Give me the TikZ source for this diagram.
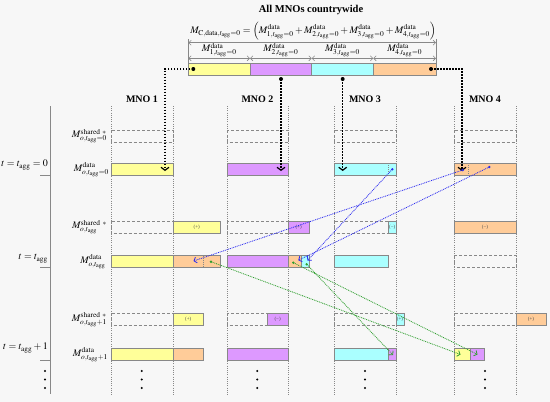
\documentclass[tikz,border=0pt]{standalone}
\usepackage{mathptmx}
\usepackage[no-math]{fontspec}
\setmainfont{Liberation Serif}
\usetikzlibrary{arrows.meta}
\definecolor{yel}{HTML}{FFFF99}
\definecolor{pur}{HTML}{DD99FF}
\definecolor{cya}{HTML}{AAFFFF}
\definecolor{ora}{HTML}{FFCC99}
\definecolor{bgc}{HTML}{F7F7F7}
\definecolor{grl}{HTML}{888888}
\definecolor{blu}{HTML}{2A2AF0}
\definecolor{grn}{HTML}{2E9E2E}
\newcommand{\ag}{\mathrm{agg}}
\newcommand{\mybox}[5]{\draw[cbox, fill=#1] (#2,#3) rectangle (#4,#5);}
\newcommand{\mydash}[4]{\draw[dbox] (#1,#2) rectangle (#3,#4);}
\tikzset{
  cbox/.style={draw=grl, line width=0.7pt},
  dbox/.style={draw=grl, line width=0.7pt, dash pattern=on 3pt off 2pt},
  colline/.style={grl, line width=0.5pt, dash pattern=on 1pt off 1.2pt},
  blkarrow/.style={line width=1.5pt, dash pattern=on 1.5pt off 1.5pt, -{Straight Barb[length=3pt,width=8pt,line width=1.2pt]}},
  bluarrow/.style={blu, line width=0.8pt, dash pattern=on 0.9pt off 0.9pt, -{Straight Barb[length=2.5pt,width=6pt,line width=0.8pt]}},
  grnarrow/.style={grn, line width=0.8pt, dash pattern=on 0.9pt off 0.9pt, -{Straight Barb[length=2.5pt,width=6pt,line width=0.8pt]}},
  kdot/.style={circle, fill=black, inner sep=0pt, minimum size=4pt},
  bdot/.style={circle, fill=blu, inner sep=0pt, minimum size=2.6pt},
  gdot/.style={circle, fill=grn, inner sep=0pt, minimum size=2.6pt},
  rowlab/.style={anchor=east, inner sep=0pt, font=\fontsize{10}{12}\selectfont},
  tlab/.style={anchor=east, inner sep=0pt, font=\fontsize{10}{12}\selectfont},
  pmlab/.style={inner sep=0pt, font=\fontsize{5}{6}\selectfont, text=black!70},
  head/.style={inner sep=0pt, font=\bfseries\fontsize{10}{12}\selectfont},
  dimline/.style={grl, line width=0.6pt},
  dimarr/.style={grl, line width=0.6pt, {Straight Barb[length=2.5pt,width=5pt]}-{Straight Barb[length=2.5pt,width=5pt]}},
  vdots/.style={circle, fill=black, inner sep=0pt, minimum size=2.2pt}
}
\begin{document}
\begin{tikzpicture}[x=1pt,y=-1pt]
\useasboundingbox (0,0) rectangle (550,402);
\fill[bgc] (0,0) rectangle (550,402);

% ---------- header ----------
\node[head, font=\bfseries\fontsize{10.5}{12}\selectfont] (title) at (311,10) {All MNOs countrywide};
\node[inner sep=0pt] (eq) at (313,31) {$M_{\mathrm{C,data},t_{\ag}=0} = \left(M^{\mathrm{data}}_{1,t_{\ag}=0} + M^{\mathrm{data}}_{2,t_{\ag}=0} + M^{\mathrm{data}}_{3,t_{\ag}=0} + M^{\mathrm{data}}_{4,t_{\ag}=0}\right)$};

\draw[dimline] (188.3,39) -- (188.3,63.3);
\draw[dimline] (436,39) -- (436,63.3);
\draw[dimarr] (188.3,42.7) -- (436,42.7);
\draw[dimarr] (188.3,58.3) -- (250,58.3);
\draw[dimarr] (250,58.3) -- (311.7,58.3);
\draw[dimarr] (311.7,58.3) -- (373.3,58.3);
\draw[dimarr] (373.3,58.3) -- (436,58.3);
\node[inner sep=0pt] (h1) at (219.2,50) {$M^{\mathrm{data}}_{1,t_{\ag}=0}$};
\node[inner sep=0pt] (h2) at (280.9,50) {$M^{\mathrm{data}}_{2,t_{\ag}=0}$};
\node[inner sep=0pt] (h3) at (342.5,50) {$M^{\mathrm{data}}_{3,t_{\ag}=0}$};
\node[inner sep=0pt] (h4) at (404.7,50) {$M^{\mathrm{data}}_{4,t_{\ag}=0}$};

\mybox{yel}{188.3}{63.3}{250}{75}
\mybox{pur}{250}{63.3}{311.7}{75}
\mybox{cya}{311.7}{63.3}{373.3}{75}
\mybox{ora}{373.3}{63.3}{436}{75}

% ---------- column headers and lines ----------
\node[head] (mno1) at (142,99) {MNO 1};
\node[head] (mno2) at (257.5,99) {MNO 2};
\node[head] (mno3) at (365,99) {MNO 3};
\node[head] (mno4) at (485,99) {MNO 4};
\foreach \xx in {111,173,227,288,334,396,454,516}
  \draw[colline] (\xx,106) -- (\xx,395);

% ---------- left axis ----------
\draw[grl, line width=0.8pt] (50.7,106) -- (50.7,394);
\draw[grl, line width=0.8pt] (40,175.7) -- (50.7,175.7);
\draw[grl, line width=0.8pt] (40,267.7) -- (50.7,267.7);
\draw[grl, line width=0.8pt] (40,360.4) -- (50.7,360.4);
\node[tlab] (t0) at (48,165) {$t = t_{\ag} = 0$};
\node[tlab] (t1) at (48,258.5) {$t = t_{\ag}$};
\node[tlab] (t2) at (48,348) {$t = t_{\ag} + 1$};

\node[rowlab] (r1) at (107,136) {$M^{\mathrm{shared}\;\,*}_{o,t_{\ag}=0}$};
\node[rowlab] (r2) at (109,169.5) {$M^{\mathrm{data}}_{o,t_{\ag}=0}$};
\node[rowlab] (r3) at (107,227) {$M^{\mathrm{shared}\;\,*}_{o,t_{\ag}}$};
\node[rowlab] (r4) at (106,261.7) {$M^{\mathrm{data}}_{o,t_{\ag}}$};
\node[rowlab] (r5) at (107,319.5) {$M^{\mathrm{shared}\;\,*}_{o,t_{\ag}+1}$};
\node[rowlab] (r6) at (108,354.5) {$M^{\mathrm{data}}_{o,t_{\ag}+1}$};

% ---------- row t = 0 ----------
\mydash{111}{130}{173}{142.3}
\mydash{227}{130}{288}{142.3}
\mydash{334}{130}{396}{142.3}
\mydash{454}{130}{516}{142.3}
\mybox{yel}{111}{163.3}{173}{175.7}
\mybox{pur}{227}{163.3}{288}{175.7}
\mybox{cya}{334}{163.3}{396}{175.7}
\mybox{ora}{454}{163.3}{516}{175.7}
\draw[grl, line width=0.5pt, dash pattern=on 1pt off 1pt] (388.3,163.3) -- (388.3,175.7);
\draw[grl, line width=0.5pt, dash pattern=on 1pt off 1pt] (468.3,163.3) -- (468.3,175.7);

% ---------- row t = t_agg ----------
\mydash{111}{221}{173}{233.3}
\mydash{227}{221}{288}{233.3}
\mydash{334}{221}{396}{233.3}
\mybox{yel}{173}{221}{220.7}{233.3}
\node[pmlab] (p1) at (196.8,227.2) {(+)};
\mybox{pur}{288}{221}{309.3}{233.3}
\node[pmlab] (p2) at (298.6,227.2) {(+)};
\mybox{cya}{388.3}{221}{396}{233.3}
\node[pmlab] (p3) at (392.2,227.2) {(−)};
\mybox{ora}{454}{221}{516}{233.3}
\node[pmlab] (p4) at (485,227.2) {(−)};

\mybox{yel}{111}{255.7}{173}{267.7}
\mybox{ora}{173}{255.7}{220.7}{267.7}
\draw[grl, line width=0.5pt, dash pattern=on 1pt off 1pt] (203.3,255.7) -- (203.3,267.7);
\mybox{pur}{227}{255.7}{288}{267.7}
\mybox{ora}{288}{255.7}{301.7}{267.7}
\mybox{cya}{301.7}{255.7}{309.3}{267.7}
\mybox{cya}{334}{255.7}{388.3}{267.7}
\mydash{454}{255.7}{516}{267.7}

% ---------- row t = t_agg + 1 ----------
\mydash{111}{313.3}{173}{325.7}
\mydash{227}{313.3}{288}{325.7}
\mydash{334}{313.3}{396}{325.7}
\mydash{454}{313.3}{516}{325.7}
\mybox{yel}{173}{313.3}{203.3}{325.7}
\node[pmlab] (p5) at (188.2,319.5) {(+)};
\mybox{pur}{267.3}{313.3}{288}{325.7}
\node[pmlab] (p6) at (277.6,319.5) {(−)};
\mybox{cya}{396}{313.3}{404}{325.7}
\node[pmlab] (p7) at (400,319.5) {(+)};
\mybox{ora}{516}{313.3}{546}{325.7}
\node[pmlab] (p8) at (531,319.5) {(+)};

\mybox{yel}{111}{348.3}{173}{360.7}
\mybox{ora}{173}{348.3}{203.3}{360.7}
\mybox{pur}{227}{348.3}{288}{360.7}
\mybox{cya}{334}{348.3}{388.3}{360.7}
\mybox{pur}{388.3}{348.3}{396}{360.7}
\mybox{yel}{454}{348.3}{470.7}{360.7}
\mybox{pur}{470.7}{348.3}{484.3}{360.7}

% ---------- vertical ellipses ----------
\foreach \xx in {45,141.7,257.3,365,485}
  \foreach \yy in {371,379.5,388}
    \node[vdots] at (\xx,\yy) {};

% ---------- black dotted arrows ----------
\node[kdot] (k1) at (193.3,69) {};
\node[kdot] (k2) at (281,79) {};
\node[kdot] (k3) at (342.7,79) {};
\node[kdot] (k4) at (431,69) {};
\coordinate (k1a) at (165,69);
\coordinate (k1b) at (165,171);
\coordinate (k2b) at (281,171);
\coordinate (k3b) at (342.7,171);
\coordinate (k4a) at (462,69);
\coordinate (k4b) at (462,171);
\draw[blkarrow] (k1.center) -- (k1a) -- (k1b);
\draw[blkarrow] (k2.center) -- (k2b);
\draw[blkarrow] (k3.center) -- (k3b);
\draw[blkarrow] (k4.center) -- (k4a) -- (k4b);

% ---------- blue arrows ----------
\node[bdot] (b1) at (392.3,169.3) {};
\node[bdot] (b2) at (462.7,170) {};
\node[bdot] (b3) at (489.3,167) {};
\coordinate (bt1) at (307.5,260.5);
\coordinate (bt2) at (193.5,261);
\coordinate (bt3) at (298.3,260.3);
\draw[bluarrow] (b1.center) -- (bt1);
\draw[bluarrow] (b2.center) -- (bt2);
\draw[bluarrow] (b3.center) -- (bt3);

% ---------- green arrows ----------
\node[gdot] (g1) at (211,261.7) {};
\node[gdot] (g2) at (293.3,262.7) {};
\node[gdot] (g3) at (306.7,264.3) {};
\coordinate (gt1) at (460.5,354.5);
\coordinate (gt2) at (477.5,354.5);
\coordinate (gt3) at (393,355);
\draw[grnarrow] (g1.center) -- (gt1);
\draw[grnarrow] (g2.center) -- (gt2);
\draw[grnarrow] (g3.center) -- (gt3);
\end{tikzpicture}
\end{document}
